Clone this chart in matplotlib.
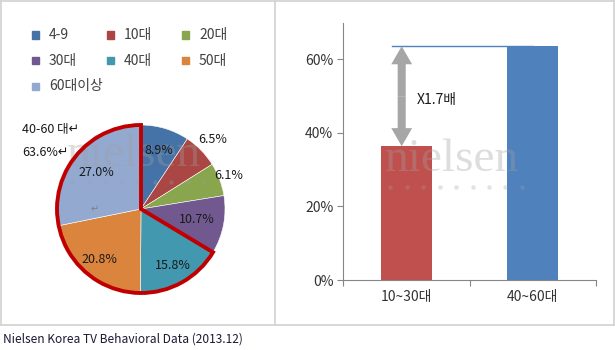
import numpy as np
import matplotlib.pyplot as plt
import matplotlib.patches as mpatches
from matplotlib.lines import Line2D

plt.rcParams['font.family'] = ['Noto Sans CJK KR', 'DejaVu Sans']

# 연령대별 시청 비중 (%)
ages = ['4-9', '10대', '20대', '30대', '40대', '50대', '60대이상']
shares = [8.9, 6.5, 6.1, 10.7, 15.8, 20.8, 27.0]
colors = ['#4572A7', '#AA4643', '#89A54E', '#71588F', '#4198AF', '#DB843D', '#93A9CF']

groups = ['10~30대', '40~60대']
group_vals = [36.4, 63.6]
group_colors = ['#C0504D', '#4F81BD']
ratio_text = 'X1.7배'

W, H = 615, 350
fig = plt.figure(figsize=(6.15, 3.5), dpi=100)

def fx(x):
    return x / W

def fy(y):
    return 1 - y / H

# panel borders
border = '#D4D4D4'
for xs, ys in [([0, 614], [0.5, 0.5]), ([0.5, 0.5], [0, 325]), ([275, 275], [0, 325]),
               ([614, 614], [0, 325]), ([0, 614], [325, 325])]:
    fig.add_artist(Line2D([fx(v) for v in xs], [fy(v) for v in ys], color=border, lw=1.3))

# ---- pie ----
cx, cy, r = 141, 209, 84
k = 1.45
axp = fig.add_axes([fx(cx - r * k), fy(cy + r * k), 2 * r * k / W, 2 * r * k / H])
wedges, _ = axp.pie(shares, colors=colors, startangle=90, counterclock=False,
                    wedgeprops=dict(edgecolor='white', linewidth=0.4))
axp.set_xlim(-k, k)
axp.set_ylim(-k, k)
axp.set_aspect('auto')
axp.axis('off')

total = sum(shares)
dist = [0.73, 1.19, 1.12, 0.68, 0.77, 0.78, 0.69]
cum = 0
for v, d in zip(shares, dist):
    mid = np.deg2rad(90 - 360 * (cum + v / 2) / total)
    axp.text(d * np.cos(mid), d * np.sin(mid), f'{v:.1f}%', ha='center', va='center',
             fontsize=9, color='#1a1a1a', zorder=5)
    cum += v

# outline of 40-60 group
start = 90 - 360 * sum(shares[:4]) / total
axp.add_patch(mpatches.Wedge((0, 0), 1, -270, start, fill=False,
                             edgecolor='#C00000', lw=2.8, joinstyle='miter', zorder=6))

fig.text(fx(22), fy(130), '40-60 대↵', fontsize=9, va='center', color='#1a1a1a')
fig.text(fx(22), fy(153), '63.6%↵', fontsize=9, va='center', color='#1a1a1a')
axp.text(fx(95), fy(209), '↵', transform=fig.transFigure, fontsize=7, va='center',
         ha='center', color='#808080', zorder=5)

# legend, 3 per row
for i, (a, c) in enumerate(zip(ages, colors)):
    row, col = divmod(i, 3)
    x0 = 32 + col * 75
    y0 = 35 + row * 25.5
    fig.add_artist(mpatches.Rectangle((fx(x0), fy(y0 + 3.5)), 7 / W, 7 / H, color=c))
    fig.text(fx(x0 + 17), fy(y0), a, fontsize=10, va='center', color='#404040')

# ---- bar ----
axb = fig.add_axes([fx(343), fy(280), (596 - 343) / W, (280 - 22.7) / H])
xb = np.arange(len(groups)) + 0.5
axb.bar(xb, group_vals, width=0.4, color=group_colors, zorder=1)
axb.set_xlim(0, 2)
axb.set_ylim(0, 70)
axb.set_yticks([0, 20, 40, 60])
axb.set_yticklabels(['0%', '20%', '40%', '60%'], fontsize=10, color='#333333')
axb.set_xticks([0, 1, 2])
axb.set_xticklabels([])
axb.set_xticks(xb, minor=True)
axb.set_xticklabels(groups, minor=True, fontsize=10, color='#333333')
axb.tick_params(axis='x', which='minor', length=0, pad=7)
axb.tick_params(axis='x', which='major', length=4, color='#868686')
axb.tick_params(axis='y', length=4, color='#868686', pad=3)
for s in ['top', 'right']:
    axb.spines[s].set_visible(False)
for s in ['left', 'bottom']:
    axb.spines[s].set_color('#868686')

axb.plot([0.385, 1.5], [group_vals[1], group_vals[1]], color='#4F81BD', lw=1, zorder=2)
mid = (group_vals[0] + group_vals[1]) / 2
style = 'simple,head_length=1.3,head_width=1.5,tail_width=0.58'
for end in [group_vals[1], group_vals[0]]:
    axb.add_patch(mpatches.FancyArrowPatch((0.464, mid), (0.464, end), arrowstyle=style,
                                           mutation_scale=10, color='#A6A6A6', lw=0,
                                           shrinkA=0, shrinkB=0, zorder=4))
axb.text(0.585, 48.9, ratio_text, fontsize=10, va='center', color='#1a1a1a')

# nielsen watermarks
for ax, x0, y0 in [(axp, 67, 155), (axb, 385, 160)]:
    ax.text(fx(x0), fy(y0), 'nielsen', transform=fig.transFigure, family='Liberation Serif',
            fontsize=34, va='center', color='#A0A0A0', alpha=0.35, zorder=3)
    ax.add_line(Line2D([fx(v) for v in np.linspace(x0 + 5, x0 + 137, 9)], [fy(y0 + 27)] * 9,
                       transform=fig.transFigure, ls='none', marker='o', ms=3.2,
                       mec='none', mfc='#A0A0A0', alpha=0.3, zorder=3))

fig.text(fx(3), fy(339), 'Nielsen Korea TV Behavioral Data (2013.12)', fontsize=8.6,
         va='center', color='#1a1a33')

fig.savefig('out.png', dpi=100)
